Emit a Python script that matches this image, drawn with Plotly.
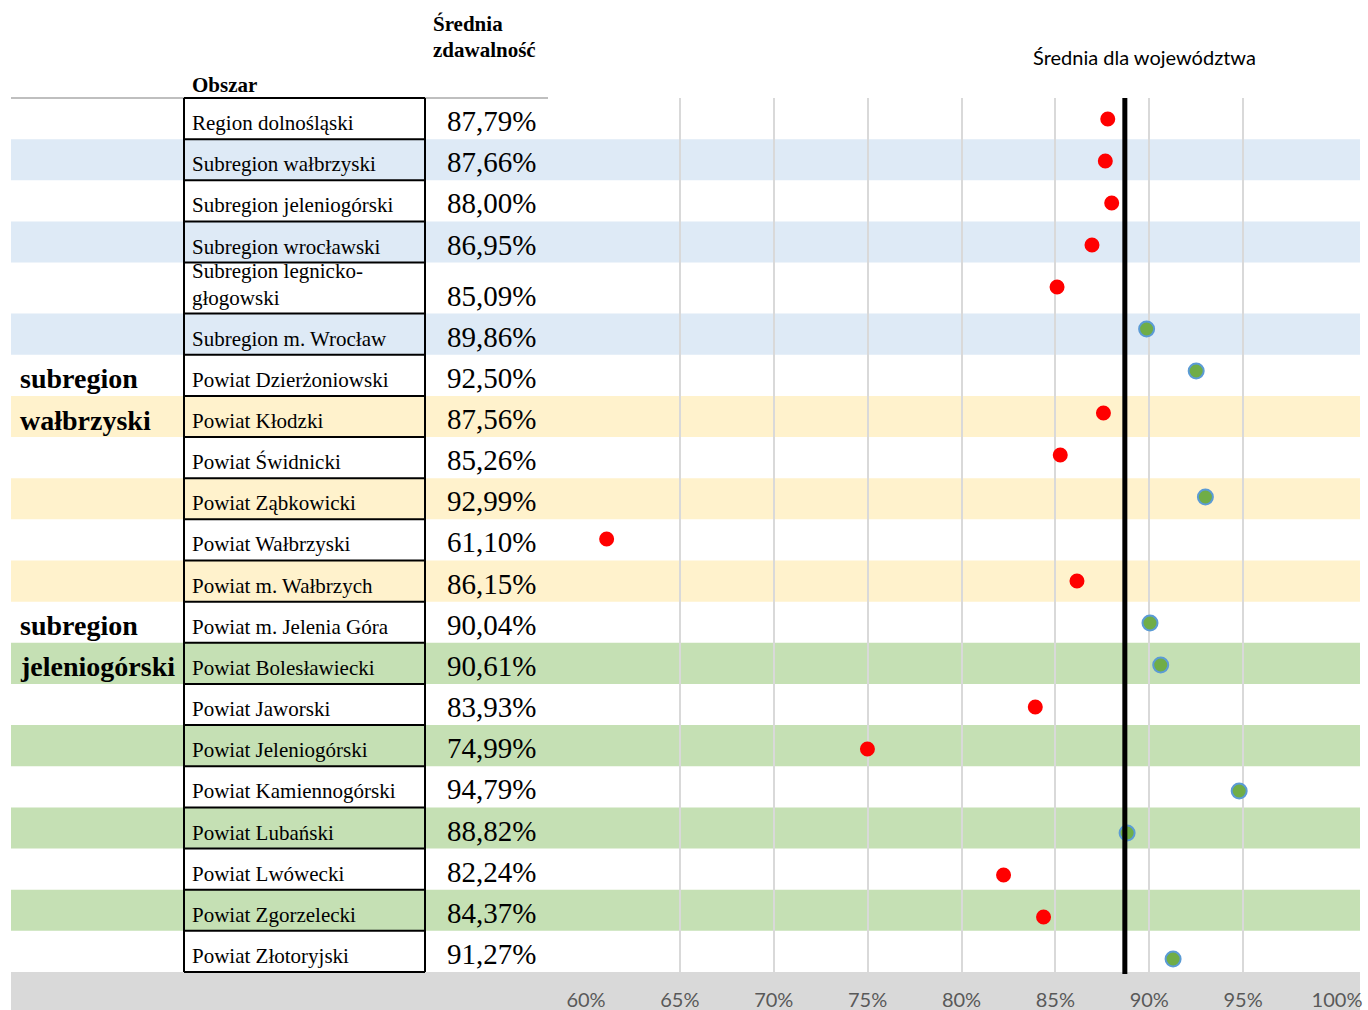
import plotly.graph_objects as go

W, H = 1368, 1010

obszary = [
    "Region dolnośląski", "Subregion wałbrzyski", "Subregion jeleniogórski",
    "Subregion wrocławski", "Subregion legnicko-<br>głogowski", "Subregion m. Wrocław",
    "Powiat Dzierżoniowski", "Powiat Kłodzki", "Powiat Świdnicki", "Powiat Ząbkowicki",
    "Powiat Wałbrzyski", "Powiat m. Wałbrzych", "Powiat m. Jelenia Góra",
    "Powiat Bolesławiecki", "Powiat Jaworski", "Powiat Jeleniogórski",
    "Powiat Kamiennogórski", "Powiat Lubański", "Powiat Lwówecki",
    "Powiat Zgorzelecki", "Powiat Złotoryjski",
]
zdawalnosc = [87.79, 87.66, 88.00, 86.95, 85.09, 89.86, 92.50, 87.56, 85.26, 92.99,
              61.10, 86.15, 90.04, 90.61, 83.93, 74.99, 94.79, 88.82, 82.24, 84.37, 91.27]
srednia_woj = 88.7
# etykiety grup: (wiersz, tekst)
grupy = [(6, "subregion"), (7, "wałbrzyski"), (12, "subregion"), (13, "jeleniogórski")]
pasy = ["", "#DEEAF6", "", "#DEEAF6", "", "#DEEAF6", "", "#FFF2CC", "", "#FFF2CC", "",
        "#FFF2CC", "", "#C5E0B4", "", "#C5E0B4", "", "#C5E0B4", "", "#C5E0B4", ""]
ticki = [60, 65, 70, 75, 80, 85, 90, 95, 100]

SERIF = "Liberation Serif, Times New Roman, serif"
SANS = "Lato, Open Sans, sans-serif"


def px(x):
    return x / W


def py(y):
    return 1 - y / H


# granice wierszy tabeli (wiersz legnicko-głogowski jest wyższy)
top, bottom = 98, 972
wys = [51 if i == 4 else 41.15 for i in range(len(obszary))]
granice = [top]
for h in wys:
    granice.append(granice[-1] + h)

# oś punktów: pierwszy punkt na 119 px, krok 42 px
p0, krok = 119, 42.0
y_range = [(bottom - p0) / krok, (top - p0) / krok]

kolory = ["#FF0000" if v < srednia_woj else "#70AD47" for v in zdawalnosc]
obwody = ["#FF0000" if v < srednia_woj else "#5B9BD5" for v in zdawalnosc]
rozm = [13 if v < srednia_woj else 15 for v in zdawalnosc]

fig = go.Figure(go.Scatter(
    x=zdawalnosc,
    y=list(range(len(zdawalnosc))),
    mode="markers",
    marker=dict(color=kolory, size=rozm, opacity=1, line=dict(color=obwody, width=2)),
    hovertemplate="%{x:.2f}%<extra></extra>",
    showlegend=False,
))

shapes = []
# pasy tła
for i, c in enumerate(pasy):
    if c:
        shapes.append(dict(type="rect", xref="paper", yref="paper", layer="below",
                           x0=px(11), x1=px(1360), y0=py(granice[i + 1]), y1=py(granice[i]),
                           fillcolor=c, line=dict(width=0)))
# szary pas pod osią
shapes.append(dict(type="rect", xref="paper", yref="paper", layer="below",
                   x0=px(11), x1=px(1360), y0=0, y1=py(bottom),
                   fillcolor="#D9D9D9", line=dict(width=0)))
# szara linia nagłówka
shapes.append(dict(type="line", xref="paper", yref="paper", x0=px(11), x1=px(548),
                   y0=py(top), y1=py(top), line=dict(color="#BFBFBF", width=2)))
# ramki tabeli
for g in granice:
    shapes.append(dict(type="line", xref="paper", yref="paper", x0=px(184), x1=px(425),
                       y0=py(g), y1=py(g), line=dict(color="black", width=2)))
for xx in (184, 425):
    shapes.append(dict(type="line", xref="paper", yref="paper", x0=px(xx), x1=px(xx),
                       y0=py(bottom), y1=py(top), line=dict(color="black", width=2)))
# średnia dla województwa
shapes.append(dict(type="line", xref="x", yref="paper", x0=srednia_woj, x1=srednia_woj,
                   y0=py(bottom + 2), y1=py(top), line=dict(color="black", width=5)))

ann = []
for i, (n, v) in enumerate(zip(obszary, zdawalnosc)):
    b = granice[i + 1]
    ann.append(dict(x=px(190), y=py(b - 2), xref="paper", yref="paper", text=n,
                    xanchor="left", yanchor="bottom", showarrow=False, align="left",
                    font=dict(family=SERIF, size=21, color="black")))
    ann.append(dict(x=px(538), y=py(b - 18), xref="paper", yref="paper",
                    text=f"{v:.2f}".replace(".", ",") + "%",
                    xanchor="right", yanchor="middle", showarrow=False,
                    font=dict(family=SERIF, size=29, color="black")))
for i, t in grupy:
    ann.append(dict(x=px(18), y=py(granice[i + 1] - 17), xref="paper", yref="paper",
                    text=f"<b>{t}</b>", xanchor="left", yanchor="middle", showarrow=False,
                    font=dict(family=SERIF, size=28, color="black")))
ann += [
    dict(x=px(431), y=py(24), xref="paper", yref="paper", text="<b>Średnia</b>",
         xanchor="left", yanchor="middle", showarrow=False,
         font=dict(family=SERIF, size=21, color="black")),
    dict(x=px(431), y=py(50), xref="paper", yref="paper", text="<b>zdawalność</b>",
         xanchor="left", yanchor="middle", showarrow=False,
         font=dict(family=SERIF, size=21, color="black")),
    dict(x=px(190), y=py(85), xref="paper", yref="paper", text="<b>Obszar</b>",
         xanchor="left", yanchor="middle", showarrow=False,
         font=dict(family=SERIF, size=21, color="black")),
    dict(x=px(1144), y=py(57), xref="paper", yref="paper", text="Średnia dla województwa",
         xanchor="center", yanchor="middle", showarrow=False,
         font=dict(family=SANS, size=20, color="black")),
]

fig.update_layout(
    width=W, height=H,
    margin=dict(l=0, r=0, t=0, b=0, autoexpand=False),
    paper_bgcolor="white",
    plot_bgcolor="rgba(0,0,0,0)",
    shapes=shapes,
    annotations=ann,
    xaxis=dict(domain=[px(586), px(1337)], range=[60, 100], automargin=False,
               tickvals=ticki, ticktext=[f"{t}%" for t in ticki],
               showgrid=True, gridcolor="#D9D9D9", gridwidth=2,
               showline=True, linecolor="#D9D9D9", linewidth=2,
               zeroline=False, ticklabelstandoff=9,
               tickfont=dict(family=SANS, size=20, color="#595959")),
    yaxis=dict(domain=[py(bottom), py(top)], range=y_range, automargin=False,
               showgrid=False, zeroline=False, showticklabels=False),
)

fig.write_html("out.html", config={"displayModeBar": False},
               post_script="document.body.style.margin='0';")
